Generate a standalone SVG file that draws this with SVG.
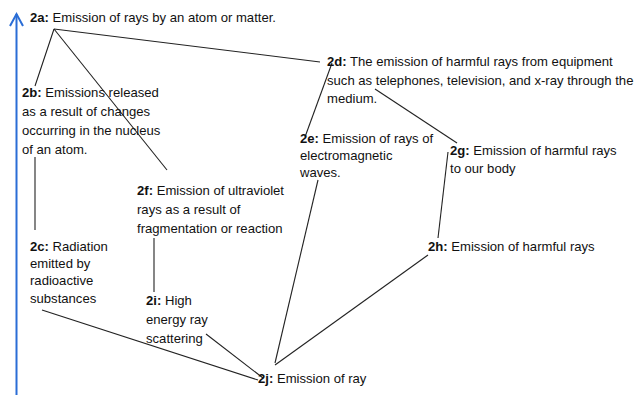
<svg xmlns="http://www.w3.org/2000/svg" width="634" height="395" viewBox="0 0 634 395">
<style>
text{font-family:"Liberation Sans",Arial,sans-serif;font-size:13.1px;fill:#111}
.b{font-weight:bold}
.c line{stroke:#222;stroke-width:1.1}
</style>
<rect width="634" height="395" fill="#fff"/>
<g id="axis">
<line x1="16.5" y1="395" x2="16.5" y2="14" stroke="#2a6dd6" stroke-width="2"/>
<polyline points="10,26 16.5,14 23,26" fill="none" stroke="#2a6dd6" stroke-width="2"/>
</g>
<g class="c" id="connectors">
<line x1="54" y1="29" x2="35" y2="86"/>
<line x1="54" y1="29" x2="167" y2="170"/>
<line x1="54" y1="29" x2="320" y2="62"/>
<line x1="35" y1="157" x2="35" y2="230"/>
<line x1="154" y1="238" x2="154" y2="292"/>
<line x1="332" y1="63" x2="305" y2="137"/>
<line x1="375" y1="89" x2="457" y2="143"/>
<line x1="448" y1="152" x2="438" y2="238"/>
<line x1="428" y1="255" x2="275" y2="365"/>
<line x1="318" y1="180" x2="275" y2="363"/>
<line x1="206" y1="334" x2="263" y2="378"/>
<line x1="42" y1="310" x2="258" y2="380"/>
</g>
<g id="n2a"><text x="30" y="22"><tspan class="b">2a:</tspan> Emission of rays by an atom or matter.</text></g>
<g id="n2b"><text x="22" y="97"><tspan class="b">2b:</tspan> Emissions released</text><text x="22" y="116">as a result of changes</text><text x="22" y="135">occurring in the nucleus</text><text x="22" y="154">of an atom.</text></g>
<g id="n2c"><text x="30" y="251"><tspan class="b">2c:</tspan> Radiation</text><text x="30" y="268">emitted by</text><text x="30" y="285">radioactive</text><text x="30" y="303">substances</text></g>
<g id="n2d"><text x="327" y="66"><tspan class="b">2d:</tspan> The emission of harmful rays from equipment</text><text x="327" y="85">such as telephones, television, and x-ray through the</text><text x="327" y="103">medium.</text></g>
<g id="n2e"><text x="300" y="143"><tspan class="b">2e:</tspan> Emission of rays of</text><text x="300" y="160">electromagnetic</text><text x="300" y="177">waves.</text></g>
<g id="n2f"><text x="137" y="195"><tspan class="b">2f:</tspan> Emission of ultraviolet</text><text x="137" y="214">rays as a result of</text><text x="137" y="233">fragmentation or reaction</text></g>
<g id="n2g"><text x="450" y="155"><tspan class="b">2g:</tspan> Emission of harmful rays</text><text x="450" y="173">to our body</text></g>
<g id="n2h"><text x="428" y="251"><tspan class="b">2h:</tspan> Emission of harmful rays</text></g>
<g id="n2i"><text x="146" y="305"><tspan class="b">2i:</tspan> High</text><text x="146" y="324">energy ray</text><text x="146" y="343">scattering</text></g>
<g id="n2j"><text x="258" y="383"><tspan class="b">2j:</tspan> Emission of ray</text></g>
</svg>
